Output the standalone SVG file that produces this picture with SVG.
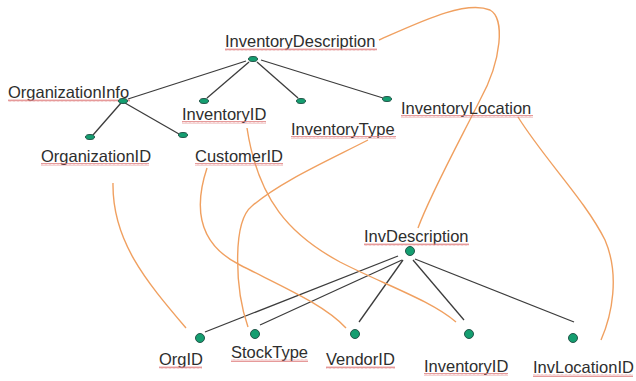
<svg xmlns="http://www.w3.org/2000/svg" width="636" height="381" viewBox="0 0 636 381">
<defs>
<pattern id="sq" width="4" height="3" patternUnits="userSpaceOnUse">
<path d="M0,2.5 L1,0.5 L2,2.5 L3,0.5 L4,2.5" fill="none" stroke="#e08080" stroke-width="0.8"/>
</pattern>
<style>
text{font-family:"Liberation Sans",Arial,sans-serif;font-size:16.5px;fill:#2e2e2e}
.sq{fill:url(#sq)}
.e{stroke:#3c3c3c;stroke-width:1.3;fill:none}
.m{stroke:#f0a060;stroke-width:1.4;fill:none}
.dt{fill:#149e70;stroke:#24564a;stroke-width:1}
</style>
</defs>
<rect width="636" height="381" fill="#fff"/>
<g id="connectors">
<path class="e" d="M246,61 L128,99"/>
<path class="e" d="M249,62 L207,98"/>
<path class="e" d="M257,62 L298,98"/>
<path class="e" d="M261,60 L383,98"/>
<path class="e" d="M121,103 L93,135"/>
<path class="e" d="M125,103 L179,134"/>
<path class="e" d="M398,256 L205,332"/>
<path class="e" d="M402,260 L260,325"/>
<path class="e" d="M403,260 L359,322"/>
<path class="e" d="M413,260 L464,320"/>
<path class="e" d="M415,259 L574,322"/>
<path class="m" d="M379,40 C420,22 465,0 490,10 C505,18 502,60 480,100 C460,140 430,195 418,228"/>
<path class="m" d="M518,117 C545,160 585,200 605,240 C620,275 612,315 601,340"/>
<path class="m" d="M113,183 C112,240 145,280 186,328"/>
<path class="m" d="M207,168 C193,210 200,245 240,265 C285,288 325,305 346,328"/>
<path class="m" d="M247,128 C258,200 290,235 340,262 C385,285 430,300 456,322"/>
<path class="m" d="M368,140 C325,162 280,182 252,206 C232,222 235,290 248,327"/>
</g>
<g id="InventoryDescription"><text x="225" y="47">InventoryDescription</text><rect class="sq" x="225" y="48" width="152" height="3"/><ellipse class="dt" cx="253" cy="59" rx="4.5" ry="2.5"/></g>
<g id="OrganizationInfo"><text x="8" y="98">OrganizationInfo</text><rect class="sq" x="8" y="99" width="122" height="3"/><ellipse class="dt" cx="123" cy="101" rx="4.5" ry="2.5"/></g>
<g id="InventoryID1"><ellipse class="dt" cx="204" cy="101" rx="4.5" ry="2.5"/><text x="182" y="120">InventoryID</text><rect class="sq" x="182" y="121" width="84" height="3"/></g>
<g id="InventoryType"><ellipse class="dt" cx="301" cy="101" rx="4.5" ry="2.5"/><text x="291" y="135">InventoryType</text><rect class="sq" x="291" y="136" width="105" height="3"/></g>
<g id="InventoryLocation"><ellipse class="dt" cx="387" cy="99" rx="4.5" ry="2.5"/><text x="401" y="114">InventoryLocation</text><rect class="sq" x="401" y="115" width="132" height="3"/></g>
<g id="OrganizationID"><ellipse class="dt" cx="90" cy="137" rx="4.5" ry="2.5"/><text x="41" y="162">OrganizationID</text><rect class="sq" x="41" y="163" width="108" height="3"/></g>
<g id="CustomerID"><ellipse class="dt" cx="183" cy="135" rx="4.5" ry="2.5"/><text x="195" y="162">CustomerID</text><rect class="sq" x="195" y="163" width="88" height="3"/></g>
<g id="InvDescription"><text x="364" y="242">InvDescription</text><rect class="sq" x="364" y="243" width="105" height="3"/><circle class="dt" cx="410" cy="251" r="4.5"/></g>
<g id="OrgID"><circle class="dt" cx="200" cy="338" r="4.5"/><text x="159" y="365">OrgID</text><rect class="sq" x="159" y="366" width="43" height="3"/></g>
<g id="StockType"><circle class="dt" cx="255" cy="334" r="4.5"/><text x="231" y="358">StockType</text><rect class="sq" x="231" y="359" width="77" height="3"/></g>
<g id="VendorID"><circle class="dt" cx="355" cy="334" r="4.5"/><text x="326" y="365">VendorID</text><rect class="sq" x="326" y="366" width="69" height="3"/></g>
<g id="InventoryID2"><circle class="dt" cx="469" cy="334" r="4.5"/><text x="424" y="372">InventoryID</text><rect class="sq" x="424" y="373" width="84" height="3"/></g>
<g id="InvLocationID"><circle class="dt" cx="573" cy="338" r="4.5"/><text x="533" y="373">InvLocationID</text><rect class="sq" x="533" y="374" width="100" height="3"/></g>
</svg>
